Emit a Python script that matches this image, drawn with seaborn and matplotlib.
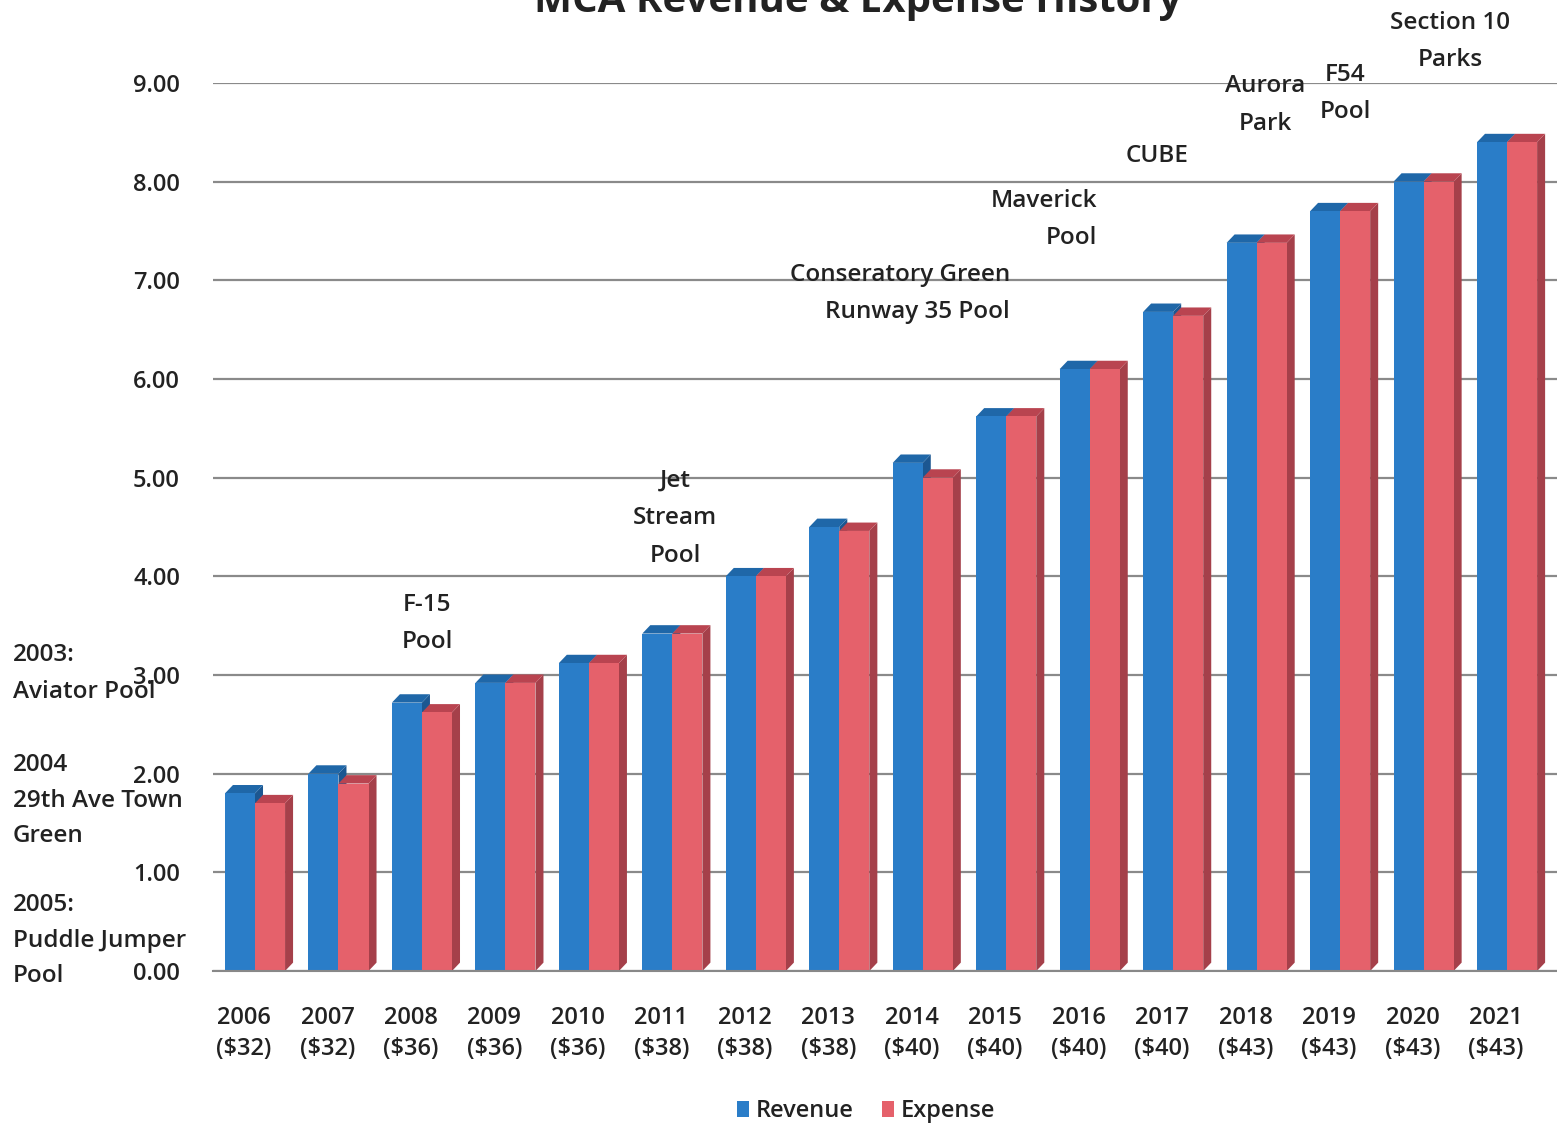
import numpy as np
import pandas as pd
import matplotlib
matplotlib.use("Agg")
import matplotlib.pyplot as plt
import matplotlib.transforms as mtransforms
from matplotlib.patches import Polygon, Patch
import seaborn as sns

# ---- data ----
years = ["2006", "2007", "2008", "2009", "2010", "2011", "2012", "2013",
         "2014", "2015", "2016", "2017", "2018", "2019", "2020", "2021"]
fees = ["($32)", "($32)", "($36)", "($36)", "($36)", "($38)", "($38)", "($38)",
        "($40)", "($40)", "($40)", "($40)", "($43)", "($43)", "($43)", "($43)"]
revenue = [1.80, 2.00, 2.72, 2.92, 3.12, 3.42, 4.00, 4.50,
           5.15, 5.62, 6.10, 6.68, 7.38, 7.70, 8.00, 8.40]
expense = [1.70, 1.90, 2.62, 2.92, 3.12, 3.42, 4.00, 4.46,
           5.00, 5.62, 6.10, 6.64, 7.38, 7.70, 8.00, 8.40]
series_names = ["Revenue", "Expense"]
yticks = [0, 1, 2, 3, 4, 5, 6, 7, 8, 9]

title = "MCA Revenue & Expense History"
left_notes = ["2003:\nAviator Pool", "2004\n29th Ave Town\nGreen", "2005:\nPuddle Jumper\nPool"]

xlabels = [f"{y}\n{f}" for y, f in zip(years, fees)]
df = pd.DataFrame({
    "Year": xlabels * 2,
    "Value": revenue + expense,
    "Series": [series_names[0]] * len(years) + [series_names[1]] * len(years),
})

colors = {"Revenue": "#2a7dc8", "Expense": "#e5616b"}
side_colors = {"Revenue": "#1c5791", "Expense": "#a5404a"}
top_colors = {"Revenue": "#1f67a8", "Expense": "#b94450"}

sns.set_theme(style="white")
FONT = ["Open Sans", "DejaVu Sans"]
plt.rcParams["font.family"] = FONT
TXT = "#222222"

W, H = 1557, 1126
fig = plt.figure(figsize=(W / 100, H / 100), dpi=100)
step = 83.47                      # pixels per category
left_px = 255 - 0.5 * step        # first cluster centred at x=255
x_right = len(years) - 0.5 + 8 / step
ax_w = (x_right + 0.5) * step
ax = fig.add_axes([left_px / W, 1 - 971 / H, ax_w / W, (971 - 83) / H])

sns.barplot(data=df, x="Year", y="Value", hue="Series", palette=colors,
            width=0.72, saturation=1, legend=False, ax=ax, zorder=2)

ax.set_xlim(-0.5, x_right)
ax.set_ylim(0, 9)
ax.set_yticks(yticks)
ax.set_yticklabels([f"{v:.2f}" for v in yticks])
ax.set_xlabel("")
ax.set_ylabel("")
for s in ax.spines.values():
    s.set_visible(False)
ax.spines["bottom"].set_visible(True)
ax.spines["bottom"].set_color("#888888")
ax.spines["bottom"].set_linewidth(1.5)
ax.tick_params(axis="y", length=0, pad=24, labelsize=17, labelcolor=TXT)
ax.tick_params(axis="x", length=0, pad=25, labelsize=17, labelcolor=TXT)
shift = mtransforms.ScaledTranslation(-11 / 100, 0, fig.dpi_scale_trans)
for lab in ax.get_xticklabels():
    lab.set_transform(lab.get_transform() + shift)
for lab in ax.get_xticklabels() + ax.get_yticklabels():
    lab.set_fontweight("semibold")
    lab.set_linespacing(1.42)
ax.yaxis.grid(True, color="#8a8a8a", linewidth=1.6)
ax.set_axisbelow(True)

# pseudo-3D faces derived from the bars drawn by seaborn
dx, dy = 0.096, 0.085
bars = list(ax.patches)
n = len(years)
for i, p in enumerate(bars):
    name = series_names[0] if i < n else series_names[1]
    x0, w, h = p.get_x(), p.get_width(), p.get_height()
    side = Polygon([(x0 + w, 0), (x0 + w + dx, dy), (x0 + w + dx, h + dy), (x0 + w, h)],
                   closed=True, facecolor=side_colors[name], edgecolor="none", zorder=1.9)
    top = Polygon([(x0, h), (x0 + dx, h + dy), (x0 + w + dx, h + dy), (x0 + w, h)],
                  closed=True, facecolor=top_colors[name], edgecolor="none", zorder=1.9)
    ax.add_patch(side)
    ax.add_patch(top)
    p.set_edgecolor("none")

# title (partly cut off at the top edge, as in the reference)
fig.text(858 / W, 1 - 12 / H, title, ha="center", va="baseline",
         fontsize=29, fontweight="bold", color=TXT)

def note(x, y, s, ha="center", ls=1.75):
    fig.text(x / W, 1 - y / H, s, ha=ha, va="top", fontsize=17.5,
             fontweight="semibold", color=TXT, linespacing=ls)

note(1450, 11, "Section 10\nParks")
note(1265, 74, "Aurora\nPark")
note(1345, 63, "F54\nPool")
note(1157, 144, "CUBE")
note(1097, 189, "Maverick\nPool", ha="right")
note(1010, 263, "Conseratory Green\nRunway 35 Pool", ha="right")
note(675, 469, "Jet\nStream\nPool")
note(427, 593, "F-15\nPool")
note(13, 643, left_notes[0], ha="left")
note(13, 753, left_notes[1], ha="left", ls=1.65)
note(13, 893, left_notes[2], ha="left", ls=1.65)

handles = [Patch(facecolor=colors[s], edgecolor="none", label=s) for s in series_names]
leg = fig.legend(handles=handles, loc="center", bbox_to_anchor=(866 / W, 1 - 1111 / H),
                 ncol=2, frameon=False, fontsize=17, handlelength=0.5, handleheight=0.65,
                 handletextpad=0.3, columnspacing=1.2)
for t in leg.get_texts():
    t.set_fontweight("semibold")
    t.set_color(TXT)

fig.savefig("out.png", dpi=100)
